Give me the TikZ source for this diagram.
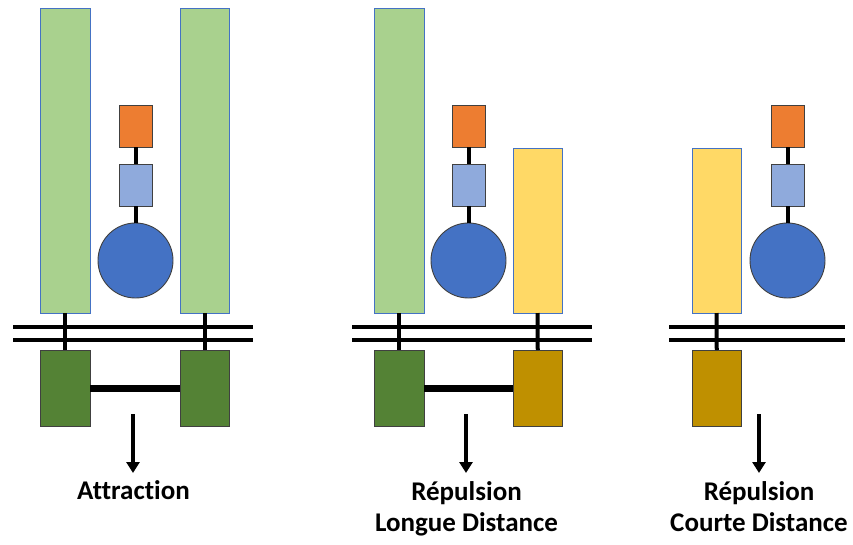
\documentclass[tikz,border=0pt]{standalone}
\usepackage{fontspec}
\setmainfont{Carlito}[Ligatures={NoCommon}]
\usetikzlibrary{arrows.meta}
\definecolor{lgreen}{HTML}{A9D18E}
\definecolor{bborder}{HTML}{4472C4}
\definecolor{orangeA}{HTML}{ED7D31}
\definecolor{lblue}{HTML}{8FAADC}
\definecolor{dblue}{HTML}{4472C4}
\definecolor{dgreen}{HTML}{548235}
\definecolor{gold}{HTML}{BF9000}
\definecolor{yell}{HTML}{FFD966}
\begin{document}
\begin{tikzpicture}[x=1pt,y=-1pt,
  rbox/.style={rectangle, inner sep=0pt, outer sep=0pt, anchor=north west, line width=0.9pt},
  tall/.style={rbox, draw=bborder, minimum width=49.5pt, minimum height=305pt},
  short/.style={rbox, draw=bborder, fill=yell, minimum width=49pt, minimum height=165pt},
  sq/.style={rbox, draw=black!75, minimum width=33pt, minimum height=42pt},
  base/.style={rbox, draw=black!75, minimum width=49.5pt, minimum height=76pt},
  ball/.style={circle, draw=black!75, fill=dblue, line width=0.9pt, minimum size=75pt, inner sep=0pt, outer sep=0pt},
  link/.style={line width=4pt},
  rail/.style={line width=4pt},
  bar/.style={line width=7pt},
  arr/.style={line width=3.5pt, -{Triangle[width=13pt,length=11pt]}},
  lbl/.style={font=\bfseries\fontsize{27}{31.5}\selectfont, align=center, inner sep=0pt, anchor=base}
]
\useasboundingbox (0,0) rectangle (853,544);

% ---------- Panel 1 : Attraction ----------
\coordinate (r1a) at (13,326.5);  \coordinate (r1b) at (253,326.5);
\coordinate (r1c) at (13,340);    \coordinate (r1d) at (253,340);
\draw[rail] (r1a) -- (r1b);
\draw[rail] (r1c) -- (r1d);
\node[tall, fill=lgreen] (g1) at (40.5,8) {};
\node[tall, fill=lgreen] (g2) at (180,8) {};
\node[sq, fill=orangeA] (o1) at (119,105) {};
\node[sq, fill=lblue] (b1) at (119,164) {};
\node[ball] (c1) at (135.5,260.5) {};
\node[base, fill=dgreen] (d1) at (40.5,350) {};
\node[base, fill=dgreen] (d2) at (180,350) {};
\draw[link] (o1.south) -- (b1.north);
\draw[link] (b1.south) -- (c1.north);
\draw[link] (g1.south) -- (d1.north);
\draw[link] (g2.south) -- (d2.north);
\draw[bar] (d1.east) -- (d2.west);
\coordinate (a1s) at (133,414); \coordinate (a1e) at (133,473);
\draw[arr] (a1s) -- (a1e);
\node[lbl] (t1) at (133.5,499.5) {Attraction};

% ---------- Panel 2 : Répulsion longue distance ----------
\coordinate (r2a) at (352,326.5); \coordinate (r2b) at (592,326.5);
\coordinate (r2c) at (352,340);   \coordinate (r2d) at (592,340);
\draw[rail] (r2a) -- (r2b);
\draw[rail] (r2c) -- (r2d);
\node[tall, fill=lgreen] (g3) at (374.5,8) {};
\node[short] (y1) at (513,148) {};
\node[sq, fill=orangeA] (o2) at (452,105) {};
\node[sq, fill=lblue] (b2) at (452,164) {};
\node[ball] (c2) at (468.5,260.5) {};
\node[base, fill=dgreen] (d3) at (374.5,350) {};
\node[base, fill=gold] (d4) at (513,350) {};
\draw[link] (o2.south) -- (b2.north);
\draw[link] (b2.south) -- (c2.north);
\draw[link] (g3.south) -- (d3.north);
\draw[link] (y1.south) -- (d4.north);
\draw[bar] (d3.east) -- (d4.west);
\coordinate (a2s) at (466,414); \coordinate (a2e) at (466,473);
\draw[arr] (a2s) -- (a2e);
\node[lbl] (t2) at (466.5,531.5) {Répulsion\\Longue Distance};

% ---------- Panel 3 : Répulsion courte distance ----------
\coordinate (r3a) at (669,326.5); \coordinate (r3b) at (845,326.5);
\coordinate (r3c) at (669,340);   \coordinate (r3d) at (845,340);
\draw[rail] (r3a) -- (r3b);
\draw[rail] (r3c) -- (r3d);
\node[short] (y2) at (692,148) {};
\node[sq, fill=orangeA] (o3) at (771,105) {};
\node[sq, fill=lblue] (b3) at (771,164) {};
\node[ball] (c3) at (787.5,260.5) {};
\node[base, fill=gold] (d5) at (692,350) {};
\draw[link] (o3.south) -- (b3.north);
\draw[link] (b3.south) -- (c3.north);
\draw[link] (y2.south) -- (d5.north);
\coordinate (a3s) at (759,414); \coordinate (a3e) at (759,473);
\draw[arr] (a3s) -- (a3e);
\node[lbl] (t3) at (759,531.5) {Répulsion\\Courte Distance};
\end{tikzpicture}
\end{document}
